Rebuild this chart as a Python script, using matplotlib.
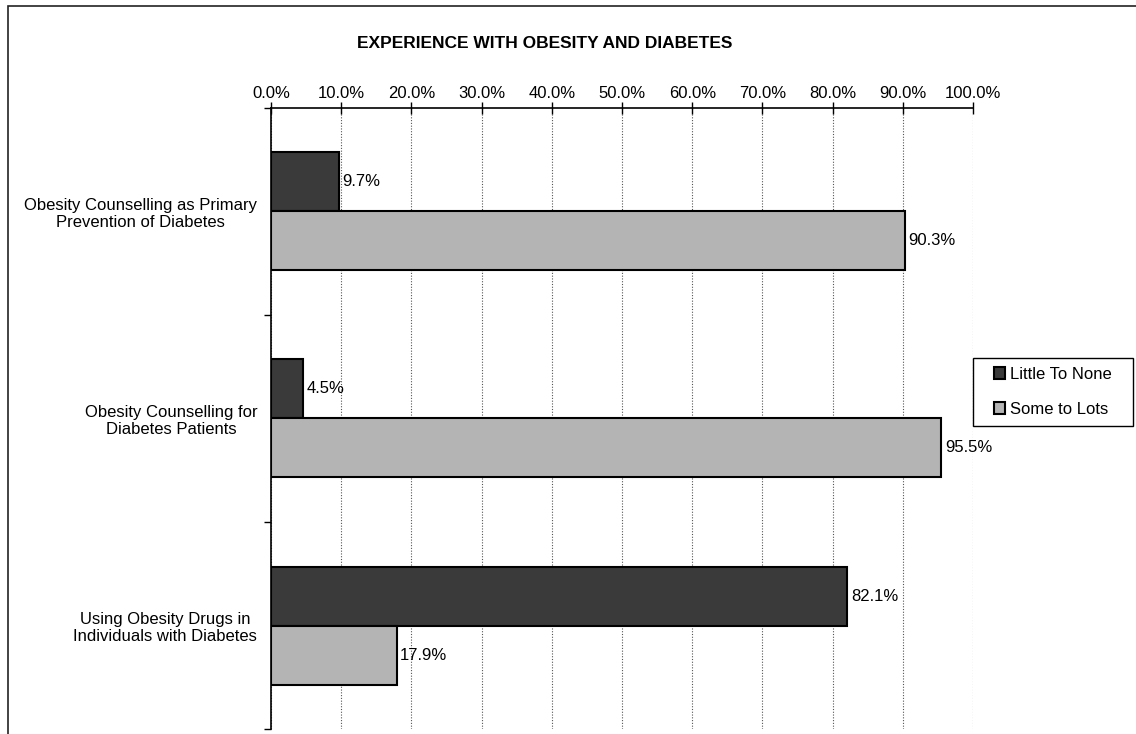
import numpy as np
import matplotlib
matplotlib.use("Agg")
import matplotlib.pyplot as plt
from matplotlib.patches import Rectangle

plt.rcParams['font.family'] = ['Liberation Sans', 'DejaVu Sans']

categories = ["Obesity Counselling as Primary\nPrevention of Diabetes",
              "Obesity Counselling for\nDiabetes Patients",
              "Using Obesity Drugs in\nIndividuals with Diabetes"]
little_to_none = [9.7, 4.5, 82.1]
some_to_lots = [90.3, 95.5, 17.9]
series_names = ["Little To None", "Some to Lots"]
xticks = np.arange(0, 101, 10)

W, H = 1136, 734
fig = plt.figure(figsize=(W / 100, H / 100), dpi=100)
ax = fig.add_axes([0.2386, 0.0068, 0.6179, 0.8461])

# outer chart frame (runs off the right and bottom edges)
top = 1 - 6 / H
fig.patches.append(Rectangle((8 / W, -0.05), 1.2, top + 0.05,
                             transform=fig.transFigure, fill=False,
                             edgecolor='#222222', lw=1.2))

pos = np.arange(len(categories)) + 0.5
h = 0.285
b1 = ax.barh(pos - h / 2, little_to_none, height=h, color='#3a3a3a',
             edgecolor='black', lw=1.5, label=series_names[0], zorder=3)
b2 = ax.barh(pos + h / 2, some_to_lots, height=h, color='#b4b4b4',
             edgecolor='black', lw=1.5, label=series_names[1], zorder=3)

for bars, vals in ((b1, little_to_none), (b2, some_to_lots)):
    for bar, v in zip(bars, vals):
        ax.text(v + 0.5, bar.get_y() + bar.get_height() / 2, "%.1f%%" % v,
                va='center', ha='left', fontsize=12, zorder=4)

ax.set_xlim(0, 100)
ax.set_ylim(3, 0)
ax.xaxis.tick_top()
ax.set_xticks(xticks)
ax.set_xticklabels(["%.1f%%" % t for t in xticks], fontsize=12)
ax.tick_params(axis='x', direction='inout', length=8, width=1, pad=1)

ax.set_yticks([0, 1, 2, 3])
ax.set_yticklabels([])
ax.set_yticks(pos, minor=True)
ax.set_yticklabels(categories, minor=True, fontsize=12)
for lab in ax.get_yticklabels(minor=True):
    lab.set_multialignment('center')
ax.tick_params(axis='y', which='major', direction='out', length=5, width=1)
ax.tick_params(axis='y', which='minor', length=0, pad=10)

ax.grid(axis='x', color='#555555', linestyle=(0, (1, 1.5)), lw=0.8, zorder=0)
for s in ('right', 'bottom'):
    ax.spines[s].set_visible(False)
ax.spines['top'].set_linewidth(1.2)
ax.spines['left'].set_linewidth(1.2)

fig.text(545 / W, 1 - 44 / H, "EXPERIENCE WITH OBESITY AND DIABETES",
         ha='center', va='center', fontsize=12.5, fontweight='bold')

# legend box drawn separately so it can be padded wider than the entries
lx0, lx1, ly0, ly1 = 973, 1133, 358, 426
fig.patches.append(Rectangle((lx0 / W, 1 - ly1 / H), (lx1 - lx0) / W,
                             (ly1 - ly0) / H, transform=fig.transFigure,
                             fill=True, facecolor='white', edgecolor='black',
                             lw=1.0, zorder=5))
fig.legend(loc='center', bbox_to_anchor=((lx0 + lx1) / 2 / W,
                                         1 - (ly0 + ly1) / 2 / H),
           fontsize=12, frameon=False, handlelength=0.7, handleheight=0.7,
           handletextpad=0.3, borderpad=0, labelspacing=1.2,
           borderaxespad=0).set_zorder(6)

fig.savefig("out.png", dpi=100)
